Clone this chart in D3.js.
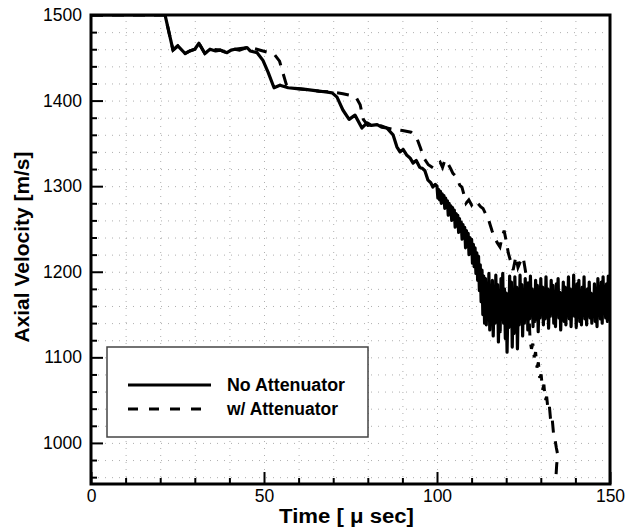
<!DOCTYPE html>
<html>
<head>
<meta charset="utf-8">
<script src="https://cdn.jsdelivr.net/npm/d3@7"></script>
<style>
  body { margin: 0; background: #fff; }
  text { font-family: "Liberation Sans", Arial, sans-serif; }
</style>
</head>
<body>
<div id="chart"></div>
<script>
// Data
var xMajor = [0, 50, 100, 150];
var yMajor = [1000, 1100, 1200, 1300, 1400, 1500];
var seriesNames = ["No Attenuator", "w/ Attenuator"];

// No Attenuator: time [us], axial velocity [m/s] (smooth part)
var noAttT = [0, 21.4, 23.7, 25.1, 27.2, 28.6, 30, 31.2, 32.9, 34.4, 36, 37.3, 38.5, 39.3, 40.5, 41.6, 43, 45.1, 46, 48,
  49.7, 51.2, 52.9, 54.6, 57, 59.5, 62, 65.9, 68, 69.7, 71.1, 72.8, 74.6, 76.3, 78.3, 79.8, 81, 82.7, 84, 85.5,
  87.3, 88.4, 89.3, 90.2, 91.3, 92.2, 93.1, 94, 95, 95.7, 96.5, 97.4, 98.2, 98.8, 99.5];
var noAttV = [1500, 1500, 1459, 1464, 1455, 1458, 1460, 1467, 1455, 1460, 1458, 1459, 1457, 1456, 1459, 1460, 1459, 1462, 1458, 1456,
  1447, 1433, 1415, 1418, 1415, 1414, 1413, 1411, 1410, 1409, 1404, 1389, 1378, 1383, 1368, 1374, 1371, 1372, 1369, 1368,
  1360, 1346, 1340, 1343, 1336, 1333, 1327, 1330, 1322, 1321, 1318, 1307, 1304, 1299, 1302];

// No Attenuator: noisy tail
var noAttTailT = [
  100, 100.25, 100.5, 100.75, 101, 101.25, 101.5, 101.75, 102, 102.25, 102.5, 102.75, 103, 103.25, 103.5, 103.75,
  104, 104.25, 104.5, 104.75, 105, 105.25, 105.5, 105.75, 106, 106.25, 106.5, 106.75, 107, 107.25, 107.5, 107.75,
  108, 108.25, 108.5, 108.75, 109, 109.25, 109.5, 109.75, 110, 110.25, 110.5, 110.75, 111, 111.25, 111.5, 111.75,
  112, 112.25, 112.5, 112.75, 113, 113.25, 113.5, 113.75, 114, 114.25, 114.5, 114.75, 115, 115.25, 115.5, 115.75,
  116, 116.25, 116.5, 116.75, 117, 117.25, 117.5, 117.75, 118, 118.25, 118.5, 118.75, 119, 119.25, 119.5, 119.75,
  120, 120.25, 120.5, 120.75, 121, 121.25, 121.5, 121.75, 122, 122.25, 122.5, 122.75, 123, 123.25, 123.5, 123.75,
  124, 124.25, 124.5, 124.75, 125, 125.25, 125.5, 125.75, 126, 126.25, 126.5, 126.75, 127, 127.25, 127.5, 127.75,
  128, 128.25, 128.5, 128.75, 129, 129.25, 129.5, 129.75, 130, 130.25, 130.5, 130.75, 131, 131.25, 131.5, 131.75,
  132, 132.25, 132.5, 132.75, 133, 133.25, 133.5, 133.75, 134, 134.25, 134.5, 134.75, 135, 135.25, 135.5, 135.75,
  136, 136.25, 136.5, 136.75, 137, 137.25, 137.5, 137.75, 138, 138.25, 138.5, 138.75, 139, 139.25, 139.5, 139.75,
  140, 140.25, 140.5, 140.75, 141, 141.25, 141.5, 141.75, 142, 142.25, 142.5, 142.75, 143, 143.25, 143.5, 143.75,
  144, 144.25, 144.5, 144.75, 145, 145.25, 145.5, 145.75, 146, 146.25, 146.5, 146.75, 147, 147.25, 147.5, 147.75,
  148, 148.25, 148.5, 148.75, 149, 149.25, 149.5, 149.75, 150];
var noAttTailV = [
  1300, 1286, 1296, 1284, 1294, 1280, 1291, 1282, 1289, 1274, 1286, 1277, 1283, 1266, 1280, 1270,
  1277, 1260, 1275, 1262, 1272, 1252, 1268, 1255, 1266, 1246, 1262, 1248, 1258, 1238, 1255, 1240,
  1252, 1228, 1248, 1232, 1245, 1220, 1240, 1222, 1238, 1210, 1232, 1206, 1228, 1198, 1222, 1190,
  1218, 1178, 1208, 1165, 1202, 1150, 1195, 1140, 1192, 1138, 1186, 1150, 1198, 1132, 1180, 1145,
  1190, 1125, 1172, 1140, 1196, 1150, 1185, 1118, 1170, 1130, 1192, 1155, 1198, 1140, 1180, 1122,
  1175, 1106, 1160, 1135, 1195, 1150, 1188, 1112, 1170, 1128, 1194, 1145, 1182, 1110, 1165, 1138,
  1196, 1150, 1185, 1125, 1178, 1140, 1192, 1148, 1186, 1132, 1170, 1145, 1195, 1152, 1180, 1136,
  1175, 1142, 1190, 1155, 1184, 1130, 1168, 1146, 1192, 1150, 1182, 1138, 1176, 1145, 1194, 1152,
  1180, 1134, 1170, 1148, 1190, 1152, 1184, 1140, 1172, 1136, 1186, 1155, 1192, 1146, 1176, 1132,
  1168, 1150, 1188, 1142, 1182, 1138, 1174, 1152, 1194, 1145, 1180, 1136, 1170, 1150, 1196, 1148,
  1178, 1135, 1186, 1155, 1190, 1142, 1172, 1138, 1182, 1150, 1194, 1145, 1168, 1138, 1180, 1152,
  1188, 1146, 1175, 1140, 1172, 1150, 1186, 1142, 1180, 1136, 1192, 1150, 1176, 1145, 1188, 1140,
  1194, 1152, 1180, 1146, 1186, 1142, 1195, 1155, 1180];

// w/ Attenuator
var attT = [0, 21.4, 23.7, 25.1, 27.2, 28.6, 30, 31.2, 32.9, 34.4, 37.3, 39.3, 41.6, 45.1, 47, 49.7, 51.5, 53, 54.5, 55.5,
  56.5, 59.5, 65.9, 69.7, 72.8, 75, 76.6, 77.8, 78.7, 80, 82.7, 85.5, 88, 90, 92.5, 94, 95.2, 96.2, 97.5, 99,
  100, 100.9, 101.6, 102.3, 103.2, 104, 104.6, 105.3, 106, 106.6, 107.2, 107.8, 108.4, 109.2, 110, 110.8, 111.8, 112.6, 113.3, 114,
  114.5, 115.2, 115.9, 116.6, 117.4, 118.2, 118.8, 119.4, 120, 120.6, 121.3, 122, 122.8, 123.4, 124.1, 124.9, 125.6, 126.3, 126.6, 126.9,
  127.3, 127.7, 128.1, 128.5, 128.9, 129.3, 129.7, 130.1, 130.5, 130.9, 131.3, 131.7, 132.1, 132.5, 132.9, 133.3, 133.7, 134.1, 134.5, 134.9,
  134.6, 134.4, 134.3];
var attV = [1500, 1500, 1459, 1464, 1455, 1458, 1460, 1467, 1455, 1460, 1459, 1456, 1460, 1462, 1461, 1458, 1456, 1454, 1446, 1432,
  1418, 1414, 1411, 1410, 1408, 1406, 1404, 1395, 1378, 1371, 1372, 1368, 1366, 1365, 1363, 1358, 1345, 1333, 1325, 1321,
  1325, 1328, 1322, 1331, 1326, 1320, 1315, 1312, 1307, 1301, 1299, 1290, 1280, 1284, 1278, 1283, 1280, 1276, 1274, 1268,
  1266, 1257, 1248, 1240, 1234, 1229, 1240, 1248, 1236, 1222, 1212, 1202, 1218, 1205, 1212, 1217, 1200, 1185, 1150, 1120,
  1110, 1116, 1100, 1106, 1088, 1094, 1076, 1080, 1062, 1068, 1050, 1054, 1038, 1042, 1024, 1028, 1010, 1004, 994, 986,
  975, 962, 950];

// Set the dimensions and margins of the visual
var W = 626, H = 528;
var margin = {top: 15, right: 16, bottom: 44, left: 91},
    width = W - margin.left - margin.right,
    height = H - margin.top - margin.bottom;

var svg = d3.select("#chart").append("svg")
    .attr("width", W)
    .attr("height", H)
    .append("g")
    .attr("transform", "translate(" + margin.left + "," + margin.top + ")");

var x = d3.scaleLinear().domain([0, 150]).range([0, width]);
var y = d3.scaleLinear().domain([952, 1500]).range([height, 0]);

var xMinor = d3.range(10, 150, 10).filter(function(v) { return v % 50 !== 0; });
var yMinor = d3.range(960, 1500, 20).filter(function(v) { return v % 100 !== 0; });

// dotted grid
var gridX = svg.append("g")
    .attr("transform", "translate(0," + height + ")")
    .call(d3.axisBottom(x).tickValues(d3.range(10, 150, 10)).tickSize(-height).tickFormat(""));
var gridY = svg.append("g")
    .call(d3.axisLeft(y).tickValues(d3.range(960, 1500, 20)).tickSize(-width).tickFormat(""));
[gridX, gridY].forEach(function(g) {
  g.select(".domain").remove();
  g.selectAll("line").attr("stroke", "#9a9a9a").attr("stroke-width", 0.8).attr("stroke-dasharray", "1,6");
});

// curves
svg.append("clipPath").attr("id", "clip")
  .append("rect").attr("width", width).attr("height", height);

var line = d3.line()
    .x(function(d) { return x(d[0]); })
    .y(function(d) { return y(d[1]); });

var noAtt = noAttT.concat(noAttTailT).map(function(t, i) {
  return [t, noAttV.concat(noAttTailV)[i]];
});
var att = attT.map(function(t, i) { return [t, attV[i]]; });

var curves = svg.append("g").attr("clip-path", "url(#clip)");
curves.append("path")
    .datum(att)
    .attr("d", line)
    .attr("fill", "none")
    .attr("stroke", "#000")
    .attr("stroke-width", 3)
    .attr("stroke-dasharray", "12,9");
curves.append("path")
    .datum(noAtt)
    .attr("d", line)
    .attr("fill", "none")
    .attr("stroke", "#000")
    .attr("stroke-width", 3.2)
    .attr("stroke-linejoin", "round");

// axes with inward ticks
function styleAxis(g) {
  g.select(".domain").remove();
  g.selectAll("line").attr("stroke", "#000").attr("stroke-width", 2);
  g.selectAll("text").attr("font-size", "17.5px").attr("fill", "#000");
}
svg.append("g")
    .attr("transform", "translate(0," + height + ")")
    .call(d3.axisBottom(x).tickValues(xMinor).tickSize(-6).tickFormat(""))
    .call(styleAxis);
svg.append("g")
    .call(d3.axisLeft(y).tickValues(yMinor).tickSize(-6).tickFormat(""))
    .call(styleAxis);
svg.append("g")
    .attr("transform", "translate(0," + height + ")")
    .call(d3.axisBottom(x).tickValues(xMajor).tickSize(-12).tickPadding(6).tickFormat(d3.format("d")))
    .call(styleAxis);
svg.append("g")
    .call(d3.axisLeft(y).tickValues(yMajor).tickSize(-12).tickPadding(9).tickFormat(d3.format("d")))
    .call(styleAxis);

// frame
svg.append("rect")
    .attr("width", width)
    .attr("height", height)
    .attr("fill", "none")
    .attr("stroke", "#000")
    .attr("stroke-width", 3);

// legend
var lg = svg.append("g").attr("transform", "translate(" + (107 - margin.left) + "," + (347 - margin.top) + ")");
lg.append("rect")
    .attr("width", 261)
    .attr("height", 90)
    .attr("fill", "#fff")
    .attr("stroke", "#444")
    .attr("stroke-width", 1.5);
seriesNames.forEach(function(name, i) {
  var yy = 38 + i * 24;
  lg.append("line")
      .attr("x1", 21).attr("x2", 104)
      .attr("y1", yy).attr("y2", yy)
      .attr("stroke", "#000")
      .attr("stroke-width", 3)
      .attr("stroke-dasharray", i === 0 ? null : "10,11");
  lg.append("text")
      .attr("x", 120)
      .attr("y", yy + 6)
      .attr("font-size", "17.5px")
      .attr("font-weight", "bold")
      .attr("textLength", i === 0 ? 118 : 111)
      .attr("lengthAdjust", "spacingAndGlyphs")
      .text(name);
});

// axis titles
svg.append("text")
    .attr("x", width / 2 - 4)
    .attr("y", height + 39)
    .attr("text-anchor", "middle")
    .attr("font-size", "20px")
    .attr("font-weight", "bold")
    .attr("textLength", 135)
    .attr("lengthAdjust", "spacingAndGlyphs")
    .text("Time [ \u03bc sec]");

svg.append("text")
    .attr("transform", "rotate(-90)")
    .attr("x", -(247 - margin.top))
    .attr("y", 29 - margin.left)
    .attr("text-anchor", "middle")
    .attr("font-size", "20px")
    .attr("font-weight", "bold")
    .attr("textLength", 191)
    .attr("lengthAdjust", "spacingAndGlyphs")
    .text("Axial Velocity [m/s]");
</script>
</body>
</html>
